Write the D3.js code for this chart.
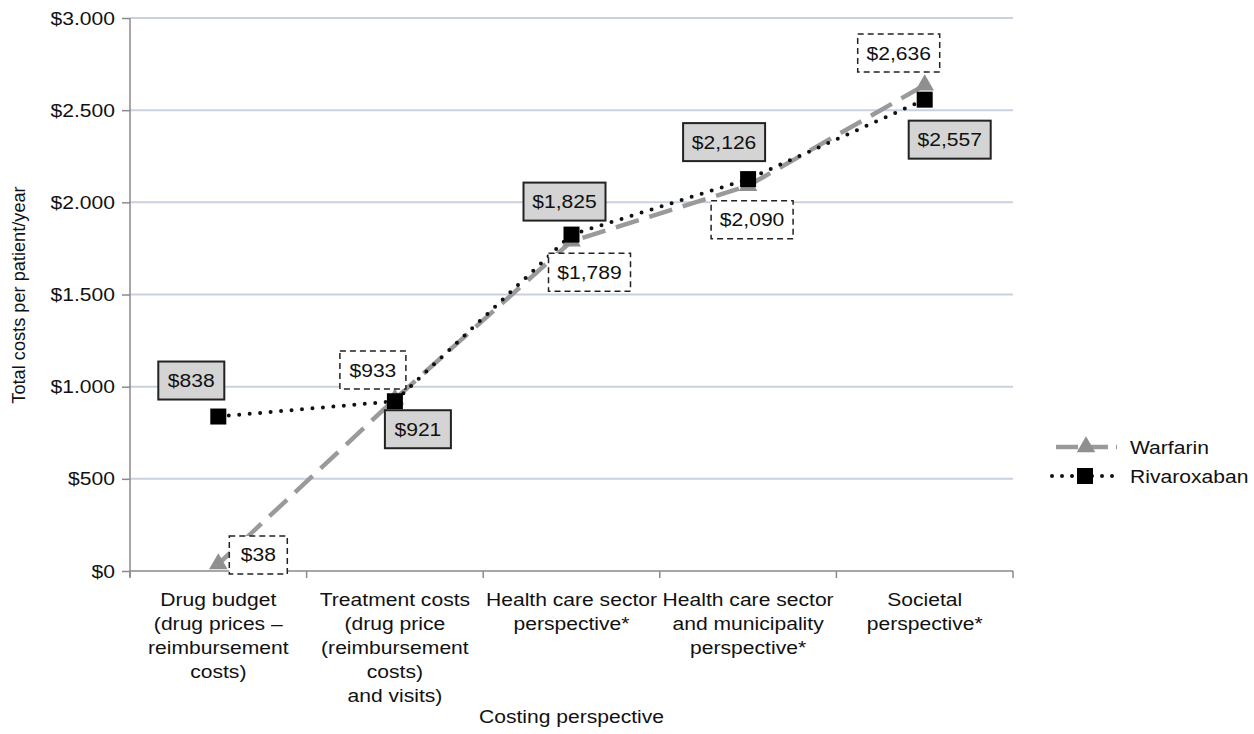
<!DOCTYPE html>
<html><head><meta charset="utf-8">
<script src="https://cdn.jsdelivr.net/npm/d3@7"></script>
<style>body{margin:0;background:#fff}svg{font-family:"Liberation Sans",Arial,sans-serif}</style>
</head><body>
<svg id="c" width="1254" height="734"></svg>
<script>
const categories = [
  ["Drug budget","(drug prices –","reimbursement","costs)"],
  ["Treatment costs","(drug price","(reimbursement","costs)","and visits)"],
  ["Health care sector","perspective*"],
  ["Health care sector","and municipality","perspective*"],
  ["Societal","perspective*"]
];
const warfarin = [38, 933, 1789, 2090, 2636];
const rivaroxaban = [838, 921, 1825, 2126, 2557];
const yTicks = [0, 500, 1000, 1500, 2000, 2500, 3000];
const seriesNames = ["Warfarin", "Rivaroxaban"];

// label placement (layout only)
const warfOff = [[40,-9],[-22,-29],[18,31],[4,34],[-26,-32]];
const rivaOff = [[-27,-36],[23,28],[-7,-33],[-24,-37],[25,40]];

const FS = 18.5, SX = 1.14;
const svg = d3.select("#c");
const L = 130, R = 1013, T = 18, B = 571;
const x = d3.scaleBand().domain(d3.range(categories.length)).range([L, R]);
const y = d3.scaleLinear().domain([0, 3000]).range([B, T]);
const cx = i => x(i) + x.bandwidth()/2;

const fmtTick = v => v >= 1000 ? "$" + d3.format(",")(v).replace(",", ".") : "$" + v;
const fmtLab = v => "$" + d3.format(",")(v);

function stext(parent, px, py, anchor) {
  return parent.append("g").attr("transform", `translate(${px},${py}) scale(${SX},1)`)
    .append("text").attr("text-anchor", anchor).attr("font-size", FS).attr("fill", "#111");
}

// gridlines
svg.append("g").selectAll("line").data(yTicks.filter(v => v > 0)).join("line")
  .attr("x1", L).attr("x2", R).attr("y1", d => y(d)).attr("y2", d => y(d))
  .attr("stroke", "#c9d1e1").attr("stroke-width", 2);

// y axis
const ya = svg.append("g").attr("transform", `translate(${L},0)`)
  .call(d3.axisLeft(y).tickValues(yTicks).tickFormat("").tickSize(8));
ya.select(".domain").attr("stroke", "#8a8a8a").attr("stroke-width", 1.5).attr("d", `M0,${T}V${B+6}`);
ya.selectAll(".tick line").attr("stroke", "#8a8a8a").attr("stroke-width", 1.5);
yTicks.forEach(v => stext(svg, L - 15, y(v) + 6.5, "end").text(fmtTick(v)));

// x axis
svg.append("line").attr("x1", L).attr("x2", R).attr("y1", B).attr("y2", B).attr("stroke", "#8a8a8a").attr("stroke-width", 1.5);
svg.append("g").selectAll("line").data(d3.range(categories.length + 1)).join("line")
  .attr("x1", i => L + i * x.bandwidth()).attr("x2", i => L + i * x.bandwidth())
  .attr("y1", B).attr("y2", B + 7).attr("stroke", "#8a8a8a").attr("stroke-width", 1.5);

categories.forEach((lines, i) => {
  const t = stext(svg, cx(i), 606, "middle");
  t.selectAll("tspan").data(lines).join("tspan").attr("x", 0)
    .attr("dy", (d, j) => j === 0 ? 0 : 24).text(d => d);
});

// axis titles
stext(svg, cx(2), 723, "middle").text("Costing perspective");
svg.append("text").attr("transform", "translate(25,295) rotate(-90)").attr("text-anchor", "middle")
  .attr("font-size", 18.2).attr("fill", "#111").text("Total costs per patient/year");

const line = d3.line().x((d, i) => cx(i)).y(d => y(d));

// Warfarin line
svg.append("path").datum(warfarin).attr("d", line).attr("fill", "none")
  .attr("stroke", "#9a9a9a").attr("stroke-width", 4.5).attr("stroke-dasharray", "24,11");
// Rivaroxaban line
svg.append("path").datum(rivaroxaban).attr("d", line).attr("fill", "none")
  .attr("stroke", "#111").attr("stroke-width", 4).attr("stroke-linecap", "round").attr("stroke-dasharray", "0,10.5");

const tri = d3.symbol().type(d3.symbolTriangle).size(150);
svg.append("g").selectAll("path").data(warfarin).join("path")
  .attr("d", tri).attr("transform", (d, i) => `translate(${cx(i)},${y(d)})`).attr("fill", "#8f8f8f");
svg.append("g").selectAll("rect").data(rivaroxaban).join("rect")
  .attr("x", (d, i) => cx(i) - 8).attr("y", d => y(d) - 8).attr("width", 16).attr("height", 16).attr("fill", "#000");

// labels
function labels(data, off, fill, dashed) {
  data.forEach((d, i) => {
    const px = cx(i) + off[i][0], py = y(d) + off[i][1];
    const t = fmtLab(d);
    const w = t.length * 8 + 34;
    svg.append("rect").attr("x", px - w/2).attr("y", py - 19).attr("width", w).attr("height", 38)
      .attr("fill", fill).attr("stroke", "#222").attr("stroke-width", dashed ? 1.5 : 2)
      .attr("stroke-dasharray", dashed ? "6,4" : null);
    stext(svg, px, py + 6.5, "middle").text(t);
  });
}
labels(warfarin, warfOff, "#fff", true);
labels(rivaroxaban, rivaOff, "#d4d4d4", false);

// legend
svg.append("line").attr("x1", 1056).attr("x2", 1117).attr("y1", 447).attr("y2", 447)
  .attr("stroke", "#9a9a9a").attr("stroke-width", 4.5).attr("stroke-dasharray", "22,8");
svg.append("path").attr("d", tri).attr("transform", "translate(1086,447)").attr("fill", "#8f8f8f");
stext(svg, 1130, 453.5, "start").text(seriesNames[0]);
svg.append("line").attr("x1", 1052).attr("x2", 1115).attr("y1", 476).attr("y2", 476)
  .attr("stroke", "#111").attr("stroke-width", 4).attr("stroke-linecap", "round").attr("stroke-dasharray", "0,10");
svg.append("rect").attr("x", 1077).attr("y", 468).attr("width", 16).attr("height", 16).attr("fill", "#000");
stext(svg, 1130, 482.5, "start").text(seriesNames[1]);
</script>
</body></html>
